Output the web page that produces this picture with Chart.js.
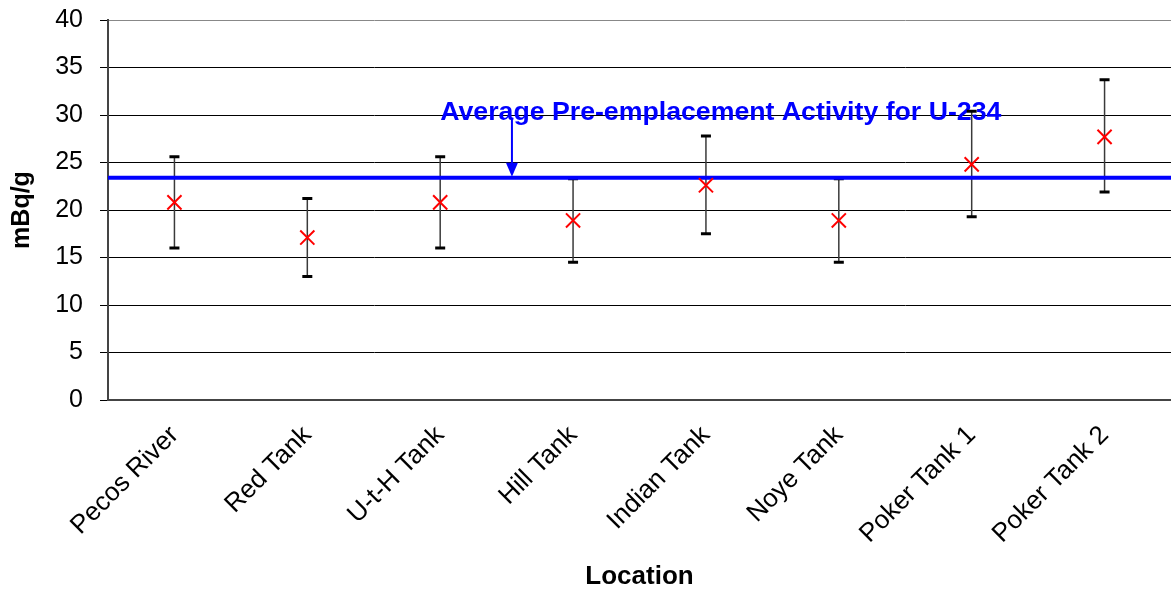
<!DOCTYPE html>
<html>
<head>
<meta charset="utf-8">
<script src="https://cdn.jsdelivr.net/npm/chart.js@4"></script>
<style>
  html, body { margin: 0; padding: 0; background: #fff; }
  #wrap { width: 1171px; height: 593px; }
</style>
</head>
<body>
<div id="wrap"><canvas id="grafico" width="1171" height="593"></canvas></div>
<script>
// dados
const locais = ['Pecos River', 'Red Tank', 'U-t-H Tank', 'Hill Tank', 'Indian Tank', 'Noye Tank', 'Poker Tank 1', 'Poker Tank 2'];
const atividade = [20.8, 17.1, 20.8, 18.9, 22.6, 18.9, 24.8, 27.7];
const erroMin = [16.0, 13.0, 16.0, 14.5, 17.5, 14.5, 19.3, 21.9];
const erroMax = [25.6, 21.2, 25.6, 23.3, 27.8, 23.3, 30.4, 33.7];
const mediaPre = 23.4;
const textoMedia = 'Average Pre-emplacement Activity for U-234';
// posicao do texto / seta em coordenadas dos dados
const textoX = 2.0, textoY = 29.5;
const setaX = 2.54;

const fonte = "'Liberation Sans', Arial, sans-serif";

// barras de erro, linha da media e anotacao
const extras = {
    id: 'extras',
    beforeDatasetsDraw(chart) {
        const ctx = chart.ctx;
        const x = chart.scales.x, y = chart.scales.y;
        const area = chart.chartArea;
        ctx.save();

        // texto da anotacao
        ctx.fillStyle = '#0000ff';
        ctx.font = 'bold 26.7px ' + fonte;
        ctx.textAlign = 'left';
        ctx.textBaseline = 'alphabetic';
        ctx.fillText(textoMedia, x.getPixelForValue(textoX), y.getPixelForValue(textoY));

        // seta
        const sx = x.getPixelForValue(setaX);
        const topo = y.getPixelForValue(textoY) - 2;
        const ponta = y.getPixelForValue(mediaPre) - 1;
        ctx.strokeStyle = '#0000ff';
        ctx.lineWidth = 2;
        ctx.beginPath();
        ctx.moveTo(sx, topo);
        ctx.lineTo(sx, ponta - 12);
        ctx.stroke();
        ctx.beginPath();
        ctx.moveTo(sx - 6, ponta - 14);
        ctx.lineTo(sx + 6, ponta - 14);
        ctx.lineTo(sx, ponta);
        ctx.closePath();
        ctx.fill();

        // barras de erro
        locais.forEach(function(nome, i) {
            const px = x.getPixelForValue(i);
            const y1 = y.getPixelForValue(erroMin[i]);
            const y2 = y.getPixelForValue(erroMax[i]);
            ctx.strokeStyle = '#3a3a3a';
            ctx.lineWidth = 1.5;
            ctx.beginPath();
            ctx.moveTo(px, y1);
            ctx.lineTo(px, y2);
            ctx.stroke();
            ctx.strokeStyle = '#000';
            ctx.lineWidth = 3;
            ctx.beginPath();
            ctx.moveTo(px - 5, y1); ctx.lineTo(px + 5, y1);
            ctx.moveTo(px - 5, y2); ctx.lineTo(px + 5, y2);
            ctx.stroke();
        });

        // linha da media
        const my = y.getPixelForValue(mediaPre);
        ctx.strokeStyle = '#0000ff';
        ctx.lineWidth = 4;
        ctx.beginPath();
        ctx.moveTo(area.left, my);
        ctx.lineTo(area.right, my);
        ctx.stroke();

        ctx.restore();
    }
};

new Chart(document.getElementById('grafico').getContext('2d'), {
    type: 'line',
    data: {
        labels: locais,
        datasets: [{
            label: 'Activity',
            data: atividade,
            showLine: false,
            pointStyle: 'crossRot',
            pointRadius: 10,
            pointHoverRadius: 10,
            pointBorderWidth: 2,
            borderColor: '#ff0000',
            backgroundColor: '#ff0000'
        }]
    },
    options: {
        responsive: false,
        animation: false,
        layout: { autoPadding: false, padding: { top: 20, right: 0, left: 0, bottom: 0 } },
        plugins: {
            legend: { display: false },
            tooltip: { enabled: false }
        },
        scales: {
            x: {
                type: 'category',
                offset: true,
                grid: { display: false },
                border: { display: true, color: '#444', width: 2 },
                ticks: {
                    color: '#000',
                    font: { family: fonte, size: 26 },
                    minRotation: 45,
                    maxRotation: 45,
                    padding: 12,
                    labelOffset: 0,
                    autoSkip: false
                },
                title: {
                    display: true,
                    text: 'Location',
                    color: '#000',
                    font: { family: fonte, size: 26, weight: 'bold', lineHeight: 1 },
                    padding: { top: 0, bottom: 3 }
                },
                afterFit(scale) {
                    scale.height = 193;
                    scale.paddingLeft = 0;
                    scale.paddingRight = 0;
                }
            },
            y: {
                min: 0,
                max: 40,
                ticks: {
                    stepSize: 5,
                    color: '#000',
                    font: { family: fonte, size: 25 },
                    padding: 17
                },
                grid: {
                    color: function(c) { return c.tick && c.tick.value === 40 ? '#888' : '#000'; },
                    lineWidth: 1,
                    tickLength: 8,
                    tickColor: '#000'
                },
                border: { display: true, color: '#444', width: 2 },
                title: {
                    display: true,
                    text: 'mBq/g',
                    color: '#000',
                    font: { family: fonte, size: 25, weight: 'bold' },
                    padding: { top: 7, bottom: 0 }
                },
                afterFit(scale) {
                    scale.width = 108;
                    scale.paddingTop = 0;
                    scale.paddingBottom = 0;
                }
            }
        }
    },
    plugins: [extras]
});
</script>
</body>
</html>
